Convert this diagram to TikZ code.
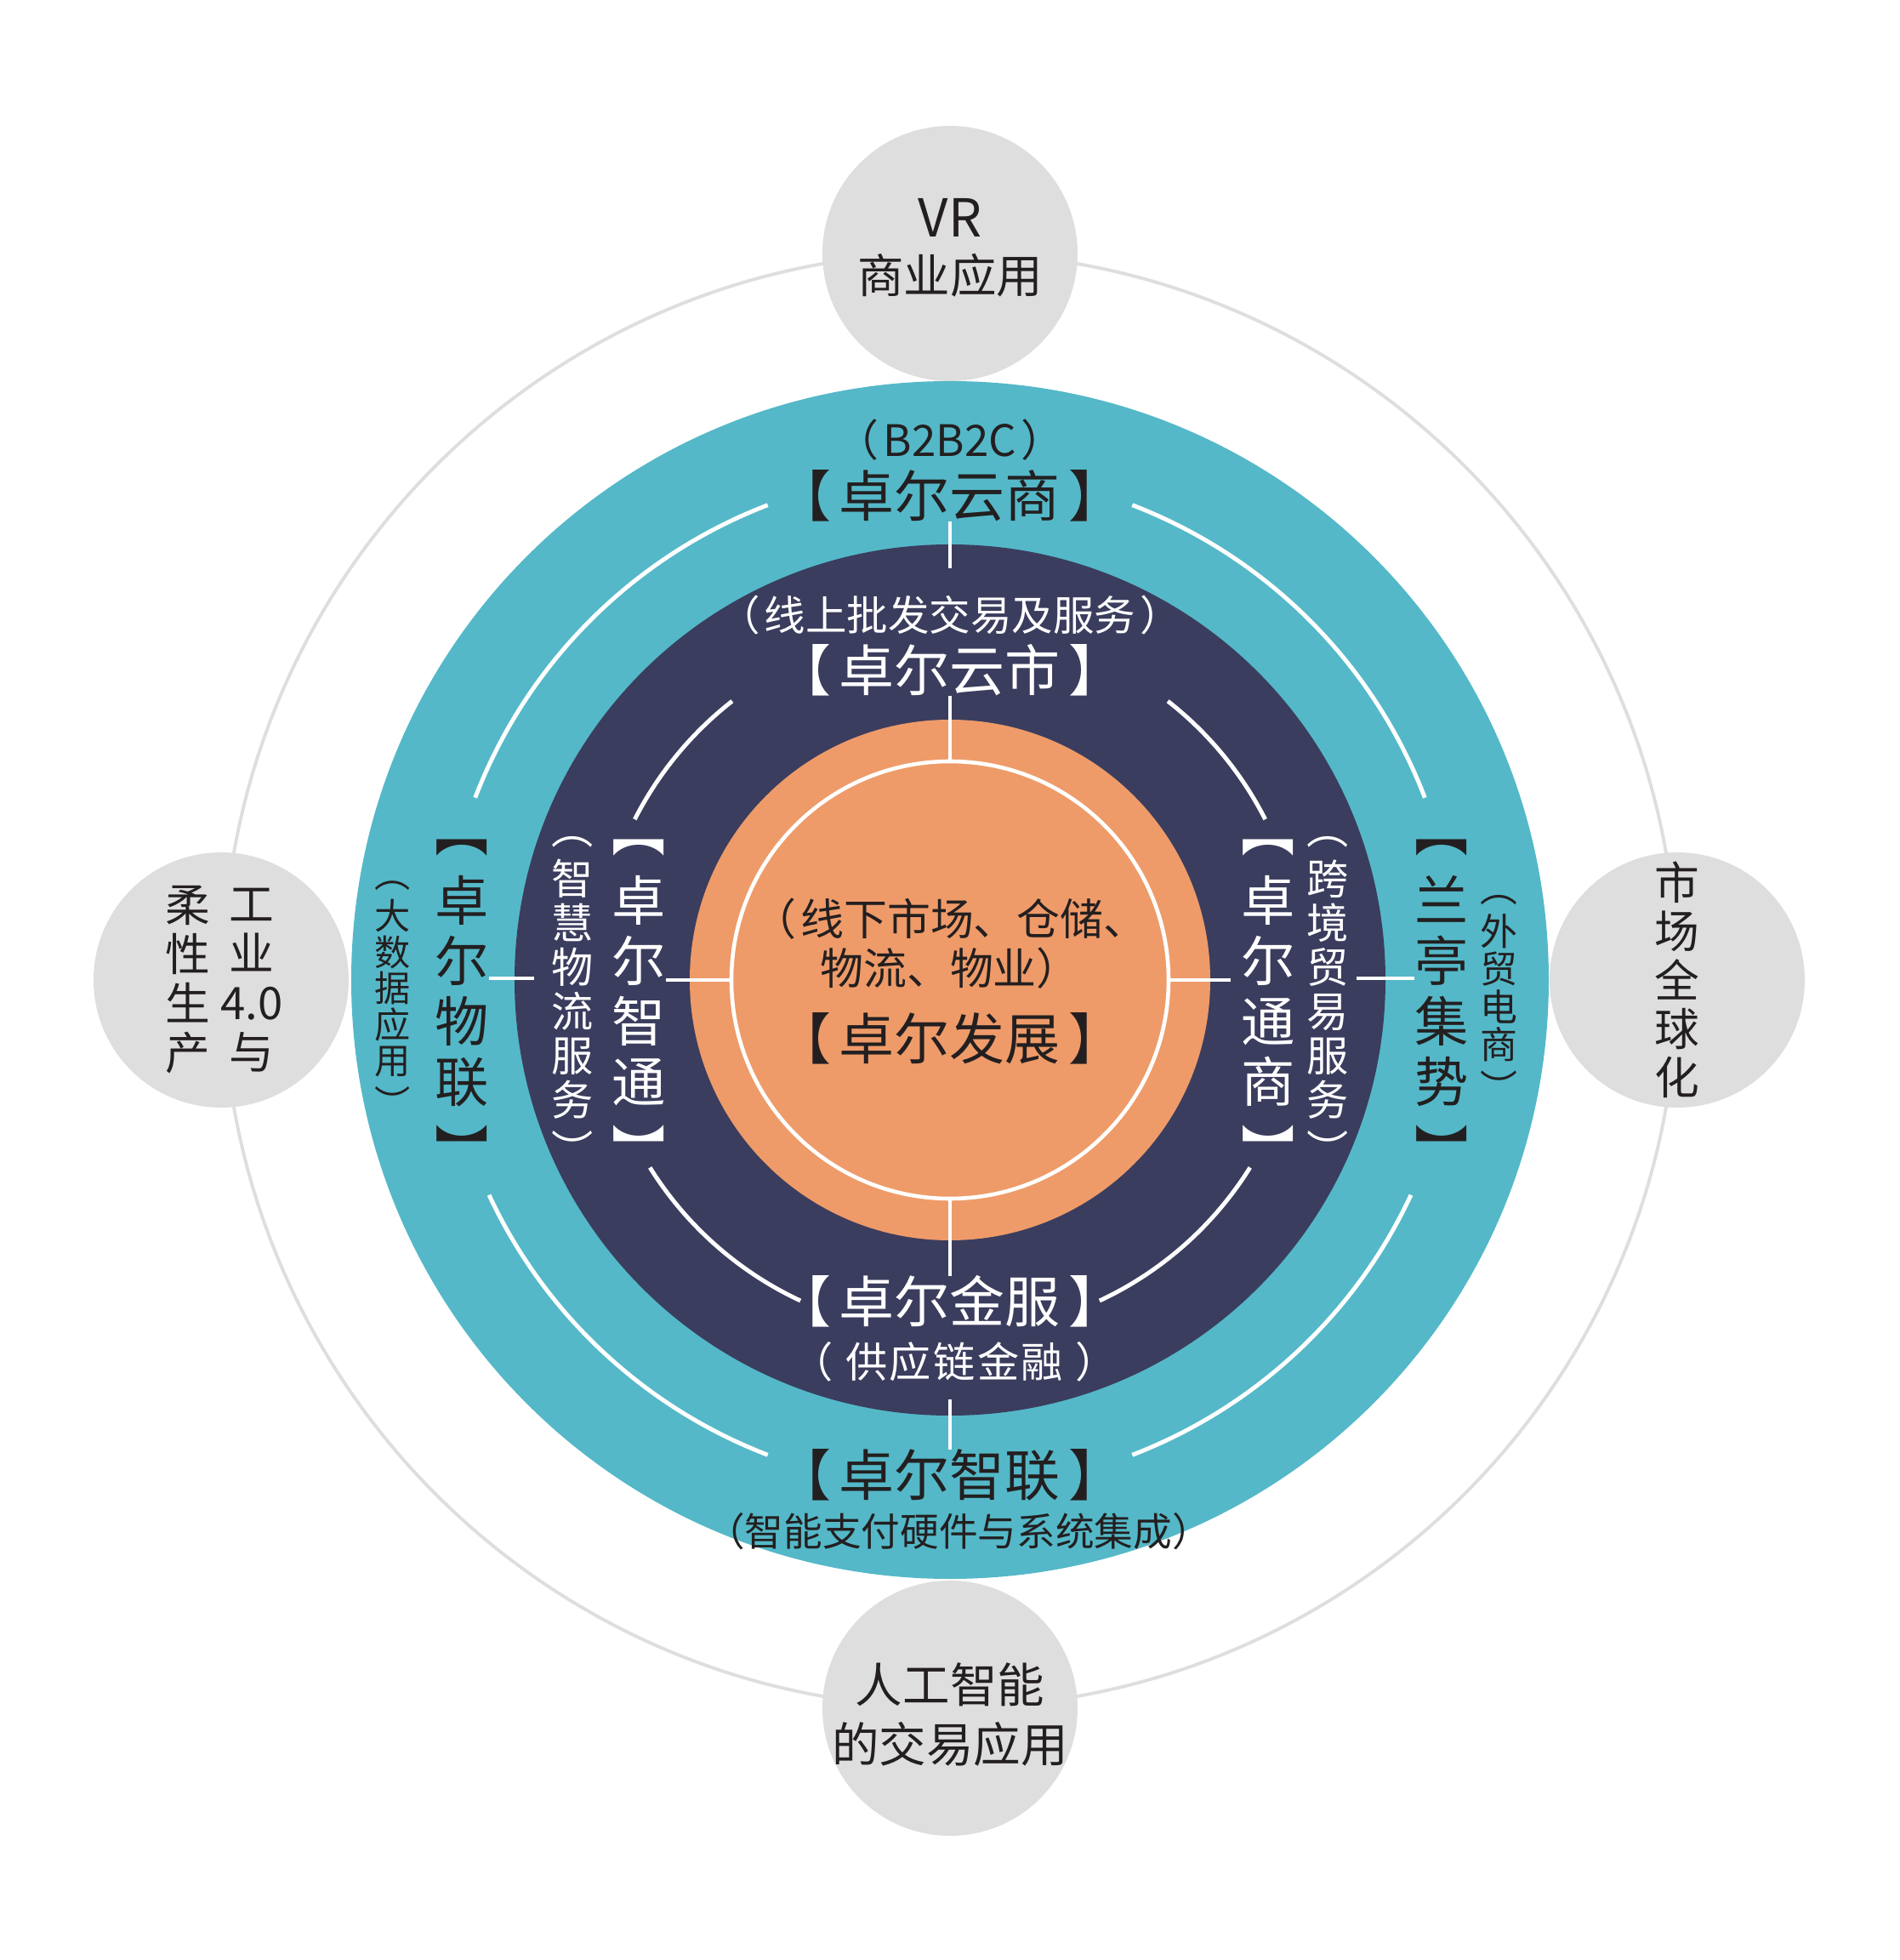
\documentclass[tikz,border=0pt]{standalone}
\usepackage{fontspec}
\setmainfont{Noto Sans CJK SC}
\definecolor{ringteal}{HTML}{54B8C8}
\definecolor{ringnavy}{HTML}{3B3D5E}
\definecolor{coreorange}{HTML}{EE9B69}
\definecolor{bubblegray}{HTML}{DEDEDE}
\definecolor{inkblack}{HTML}{231F20}
\newcommand{\fsz}[2]{\fontsize{#1pt}{#2pt}\selectfont}
\newcommand{\bracketed}[1]{【\hspace{0.15em}#1\hspace{0.15em}】}

\begin{document}
\begin{tikzpicture}[
  x=1cm,
  y=1cm,
  every node/.style={inner sep=0pt, outer sep=0pt, text=inkblack},
  bigtag/.style={font=\fsz{18.5}{22}},
  subtag/.style={font=\fsz{13.8}{16}},
  vbig/.style={font=\fsz{18}{20.2}, align=center},
  vsub/.style={font=\fsz{14}{14.8}, align=center},
  vsmall/.style={font=\fsz{12.5}{12.6}, align=center},
  graytext/.style={font=\fsz{15.5}{18.8}, align=center},
  link/.style={white, line width=1.4pt},
  arcline/.style={white, line width=1.4pt},
  orbit/.style={bubblegray, line width=1.1pt},
  bubble/.style={circle, fill=bubblegray, minimum size=3cm}
]
\useasboundingbox (-11.17,-11.52) rectangle (11.16,11.52);

% =====================================================================
% outer orbit with the four grey bubbles
% =====================================================================
\draw[orbit] (0,0) circle (8.55);
\node[bubble] (vr)  at (0,8.54)  {};
\node[bubble] (ai)  at (0,-8.56) {};
\node[bubble] (ind) at (-8.57,0) {};
\node[bubble] (glb) at (8.55,0)  {};

\node[graytext] (vr-text) at ([yshift=0.07cm]vr.center)
  {{\fsz{17.5}{18.8}VR}\\商业应用};
\node[graytext, font=\fsz{15.8}{20.2}] (ai-text)
  at ([yshift=-0.075cm]ai.center) {人工智能\\的交易应用};
\node[graytext, font=\fsz{15}{16.5}] (ind-a)
  at ([xshift=0.36cm]ind.center) {工\\业\\4.0\\与};
\node[graytext, font=\fsz{15}{16.5}] (ind-b)
  at ([xshift=-0.39cm]ind.center) {柔\\性\\生\\产};
\node[graytext, font=\fsz{15}{16.3}] (glb-text) at (glb.center)
  {市\\场\\全\\球\\化};

% =====================================================================
% rings
% =====================================================================
\fill[ringteal] (0,0) circle (7.04);
\fill[ringnavy] (0,0) circle (5.12);
\fill[coreorange] (0,0) circle (3.06);
\node[circle, draw=white, line width=1.3pt, minimum size=5.14cm] (ring)
  at (0,0) {};

\foreach \a/\b in {21/69, 111/159, 205/249, 291/335}
  \draw[arcline] (\a:5.98) arc[start angle=\a, end angle=\b, radius=5.98];
\foreach \a/\b in {27/52, 128/153, 212/245, 295/328}
  \draw[arcline] (\a:4.16) arc[start angle=\a, end angle=\b, radius=4.16];

% =====================================================================
% top and bottom labels
% =====================================================================
\node[subtag, font=\fsz{14.5}{16}] (b2b2c) at (0,6.35)
  {（\hspace{0.1em}B2B2C\hspace{0.1em}）};
\node[bigtag] (yunshang) at (0,5.69) {\bracketed{卓尔云商}};
\node[subtag, text=white] (yunshi-sub) at (0,4.29)
  {（\hspace{0.1em}线上批发交易及服务\hspace{0.1em}）};
\node[bigtag, text=white] (yunshi) at (0,3.64) {\bracketed{卓尔云市}};

\node[subtag, font=\fsz{14.5}{16.5}, align=center] (core-sub) at (0,0.43)
  {（\hspace{0.1em}线下市场、仓储、\\物流、物业）};
\node[bigtag] (fazhan) at (0,-0.69) {\bracketed{卓尔发展}};

\node[bigtag, text=white] (jinfu) at (0,-3.78) {\bracketed{卓尔金服}};
\node[subtag, font=\fsz{14}{16}, text=white] (jinfu-sub) at (0.05,-4.49)
  {（\hspace{0.3em}供\hspace{0.05em}应\hspace{0.05em}链\hspace{0.05em}金\hspace{0.05em}融\hspace{0.3em}）};
\node[bigtag] (zhilian) at (0,-5.82) {\bracketed{卓尔智联}};
\node[subtag, font=\fsz{13}{16}] (zhilian-sub) at (0.1,-6.48)
  {（智能支付硬件与系统集成）};

% =====================================================================
% left and right labels, set in columns
% =====================================================================
\node[vsmall, font=\fsz{12}{12.1}] (wulian-sub) at (-6.55,-0.22)
  {︵\\[2pt]大\\数\\据\\应\\用\\[2pt]︶};
\node[vbig] (wulian) at (-5.74,-0.30) {︻\\[3pt]卓\\尔\\物\\联\\[3pt]︼};
\node[vsub, text=white] (zhitong-sub) at (-4.44,-0.25)
  {︵\\[2pt]智\\慧\\物\\流\\服\\务\\[2pt]︶};
\node[vbig, text=white] (zhitong) at (-3.66,-0.30)
  {︻\\[3pt]卓\\尔\\智\\通\\[3pt]︼};

\node[vbig, text=white] (tongshang) at (3.74,-0.30)
  {︻\\[3pt]卓\\尔\\通\\商\\[3pt]︼};
\node[vsub, text=white] (tongshang-sub) at (4.44,-0.25)
  {︵\\[2pt]跨\\境\\贸\\易\\服\\务\\[2pt]︶};
\node[vbig] (lanting) at (5.78,-0.30) {︻\\[3pt]兰\\亭\\集\\势\\[3pt]︼};
\node[vsmall] (lanting-sub) at (6.45,-0.22)
  {︵\\[2pt]外\\贸\\电\\商\\[2pt]︶};

% =====================================================================
% white connectors
% =====================================================================
\coordinate (navy-top)   at (0,4.84);
\coordinate (navy-bot)   at (0,-4.93);
\coordinate (navy-left)  at (-4.89,0.02);
\coordinate (navy-right) at (4.78,0.02);

\draw[link] (ring.north) -- (ring.north |- yunshi.south);
\draw[link] (navy-top) -- (navy-top |- yunshang.south);
\draw[link] (ring.south) -- (ring.south |- jinfu.north);
\draw[link] (navy-bot) -- (navy-bot |- zhilian.north);
\draw[link] (ring.west) -- (ring.west -| zhitong.east);
\draw[link] (navy-left) -- (navy-left -| wulian.east);
\draw[link] (ring.east) -- ([xshift=-0.12cm]ring.east -| tongshang.west);
\draw[link] (navy-right) -- (navy-right -| lanting.west);

\end{tikzpicture}
\end{document}
